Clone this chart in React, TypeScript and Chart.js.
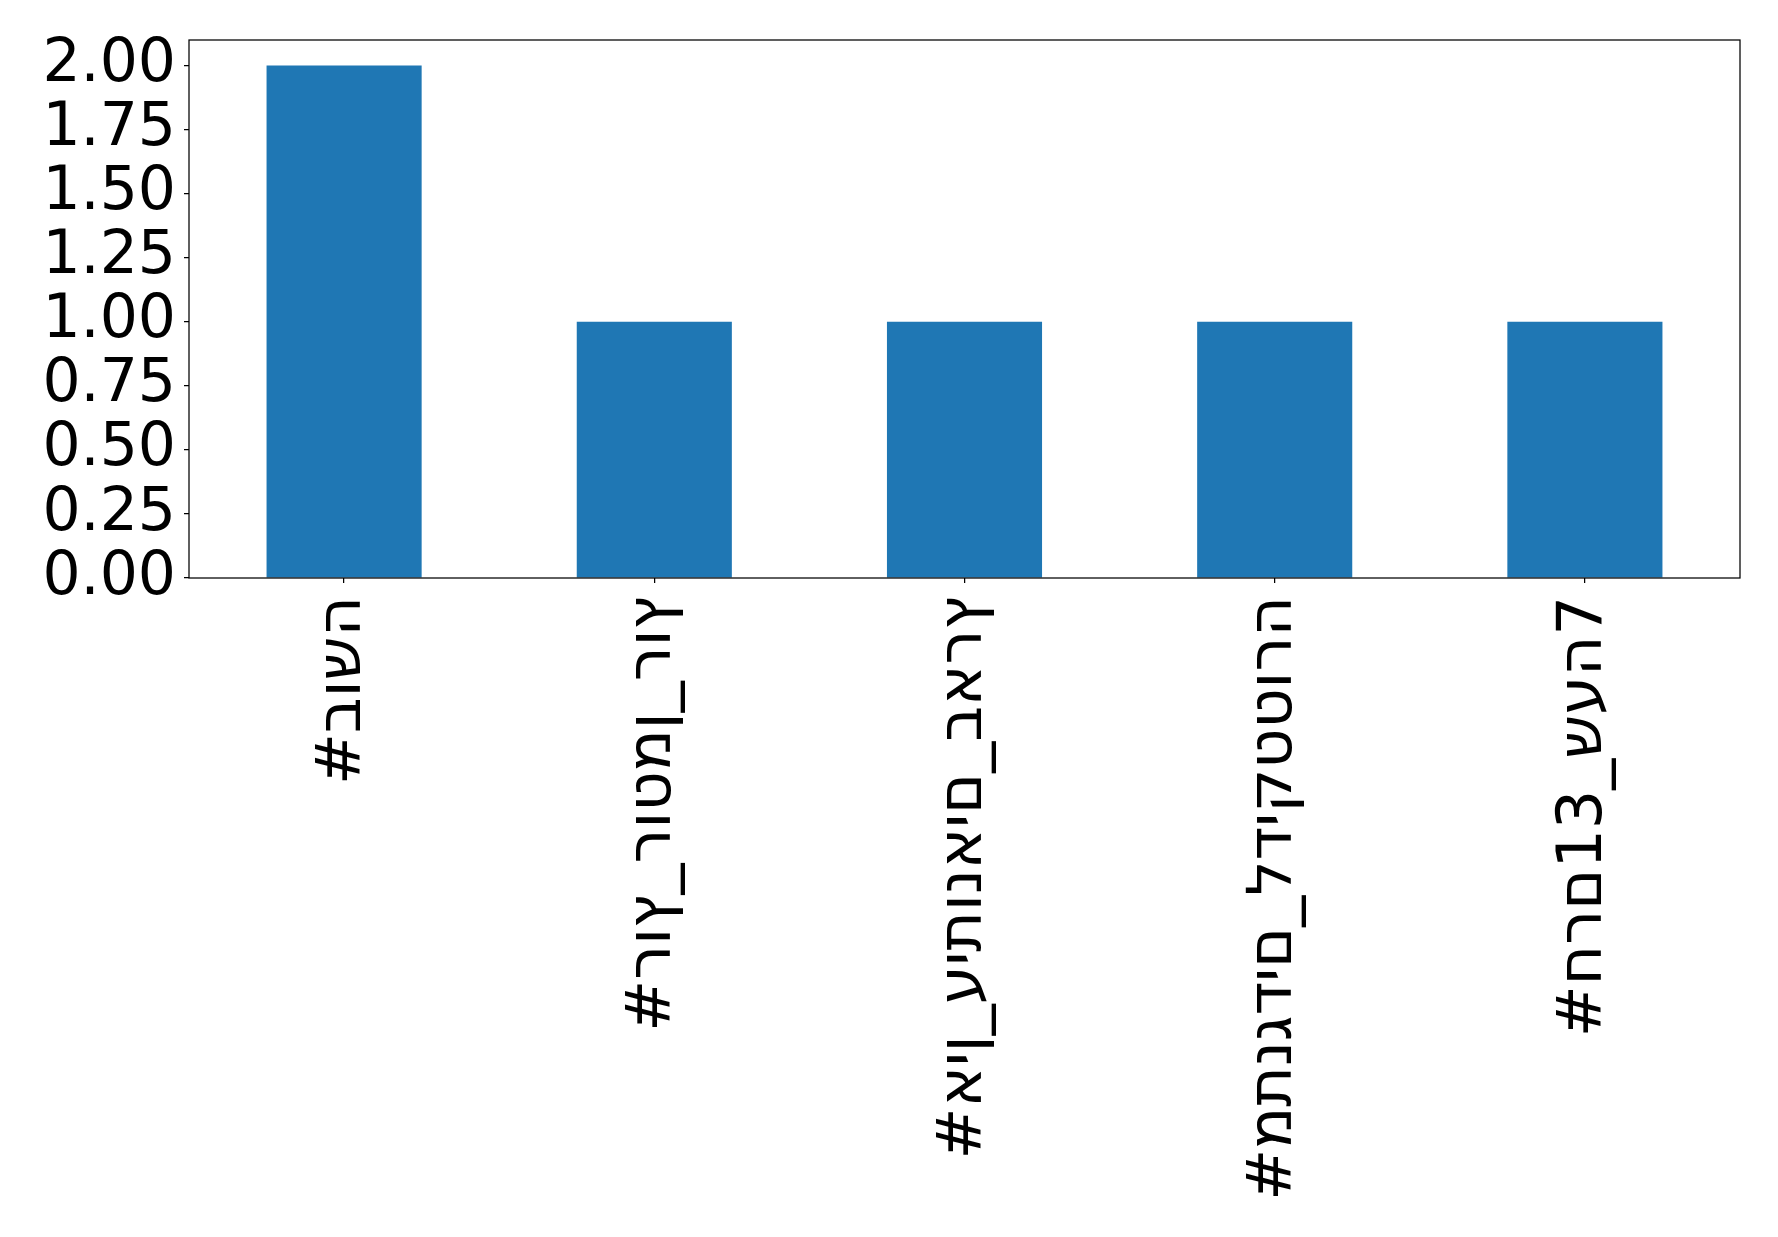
import React, { useEffect, useRef } from "react";
import { Chart, registerables } from "chart.js";

Chart.register(...registerables);

const categories = [
  "#בושה",
  "#רוץ_רוטמן_רוץ",
  "#אין_עיתונאים_בארץ",
  "#מתנגדים_לדיקטטורה",
  "#חרם13_שעה7",
];
const counts = [2, 1, 1, 1, 1];
const yTickValues = [0, 0.25, 0.5, 0.75, 1.0, 1.25, 1.5, 1.75, 2.0];
const yMax = 2.1;

const W = 1778;
const H = 1237;
const AXIS_LEFT = 189;
const AXIS_TOP = 40;
const AXIS_RIGHT = 1740;
const AXIS_BOTTOM = 578;

const framePlugin = {
  id: "frame",
  afterDraw(chart: any) {
    const { ctx, chartArea } = chart;
    const { left, top, right, bottom } = chartArea;
    ctx.save();
    ctx.strokeStyle = "#000";
    ctx.lineWidth = 1.25;
    ctx.strokeRect(left, top, right - left, bottom - top);
    ctx.restore();
  },
};

export default function App() {
  const ref = useRef<HTMLCanvasElement | null>(null);
  useEffect(() => {
    if (!ref.current) return;
    const yFont = { family: "'DejaVu Sans', sans-serif", size: 60 };
    const xFont = { family: "'DejaVu Sans', sans-serif", size: 62 };
    const chart = new Chart(ref.current, {
      type: "bar",
      data: {
        labels: categories,
        datasets: [
          {
            data: counts,
            backgroundColor: "#1f77b4",
            borderWidth: 0,
            categoryPercentage: 1,
            barPercentage: 0.5,
          },
        ],
      },
      options: {
        animation: false,
        responsive: false,
        maintainAspectRatio: false,
        layout: { padding: { top: AXIS_TOP, right: W - AXIS_RIGHT, left: 0, bottom: 0 } },
        plugins: { legend: { display: false }, tooltip: { enabled: false } },
        scales: {
          x: {
            type: "category",
            offset: true,
            border: { display: false },
            grid: {
              display: true,
              drawOnChartArea: false,
              drawTicks: true,
              tickLength: 5,
              color: "#000",
              lineWidth: 1.25,
              offset: false,
            },
            ticks: {
              autoSkip: false,
              minRotation: 90,
              maxRotation: 90,
              padding: 13,
              color: "#000",
              font: xFont,
              callback: (_v: any, i: number) => "\u202D" + categories[i] + "\u202C",
            },
            afterFit: (s: any) => {
              s.height = H - AXIS_BOTTOM;
              s.paddingLeft = 0;
              s.paddingRight = 0;
            },
          },
          y: {
            min: 0,
            max: yMax,
            border: { display: false },
            grid: {
              display: true,
              drawOnChartArea: false,
              drawTicks: true,
              tickLength: 5,
              color: "#000",
              lineWidth: 1.25,
            },
            afterBuildTicks: (s: any) => {
              s.ticks = yTickValues.map((v) => ({ value: v }));
            },
            ticks: {
              autoSkip: false,
              padding: 8,
              color: "#000",
              font: yFont,
              callback: (v: any) => Number(v).toFixed(2),
            },
            afterFit: (s: any) => {
              s.width = AXIS_LEFT;
              s.paddingTop = 0;
              s.paddingBottom = 0;
            },
          },
        },
      },
      plugins: [framePlugin],
    });
    return () => chart.destroy();
  }, []);
  return (
    <div style={{ position: "absolute", left: 0, top: 0, width: W, height: H, background: "#fff" }}>
      <canvas ref={ref} width={W} height={H} style={{ width: W, height: H, display: "block" }} />
    </div>
  );
}
